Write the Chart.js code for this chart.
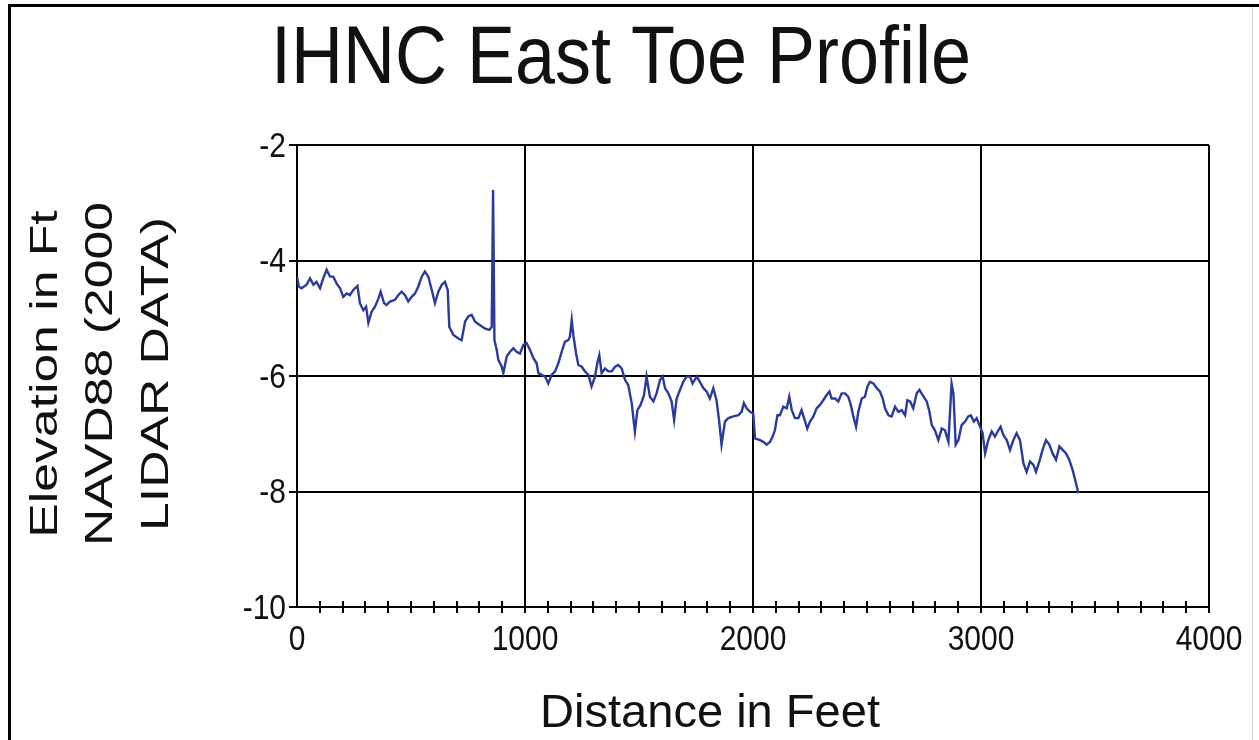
<!DOCTYPE html>
<html>
<head>
<meta charset="utf-8">
<title>IHNC East Toe Profile</title>
<script src="https://cdn.jsdelivr.net/npm/chart.js@4.4.1/dist/chart.umd.min.js"></script>
<style>
  html, body { margin: 0; padding: 0; background: #fff; overflow: hidden; }
  canvas { display: block; }
</style>
</head>
<body>
<canvas id="profile" width="1259" height="740"></canvas>
<script>
// distance along the toe (ft) and LIDAR elevation (ft NAVD88)
const distance = [
  0, 8, 20, 42, 57, 72, 86, 101, 115, 130, 145, 159, 174, 189, 203, 218, 232, 247, 265, 276,
  291, 303, 313, 327, 342, 357, 367, 382, 393, 408, 430, 444, 459, 474, 488, 503, 518, 532, 547, 561,
  576, 591, 605, 620, 635, 649, 661, 668, 686, 708, 722, 737, 751, 766, 781, 803, 825, 844, 854, 860,
  866, 876, 883, 898, 905, 920, 934, 949, 963, 978, 993, 1007, 1022, 1037, 1051, 1059, 1073, 1088, 1102, 1117,
  1132, 1146, 1161, 1175, 1190, 1197, 1205, 1212, 1224, 1234, 1249, 1263, 1278, 1292, 1307, 1317, 1326, 1336, 1351, 1366,
  1380, 1395, 1409, 1424, 1439, 1453, 1468, 1482, 1493, 1507, 1522, 1533, 1548, 1563, 1577, 1592, 1604, 1614, 1629, 1643,
  1654, 1665, 1680, 1694, 1709, 1724, 1735, 1753, 1767, 1782, 1797, 1811, 1826, 1840, 1852, 1862, 1877, 1892, 1914, 1936,
  1950, 1960, 1972, 1987, 2001, 2009, 2031, 2045, 2060, 2075, 2086, 2096, 2107, 2118, 2133, 2148, 2159, 2170, 2184, 2199,
  2213, 2224, 2238, 2250, 2265, 2279, 2294, 2308, 2323, 2335, 2345, 2360, 2374, 2389, 2404, 2418, 2429, 2440, 2452, 2462,
  2477, 2491, 2502, 2513, 2528, 2543, 2557, 2569, 2579, 2594, 2608, 2623, 2638, 2652, 2667, 2677, 2689, 2703, 2718, 2730,
  2744, 2762, 2774, 2784, 2798, 2813, 2828, 2842, 2857, 2871, 2879, 2889, 2901, 2915, 2930, 2944, 2955, 2969, 2981, 2993,
  3007, 3018, 3032, 3047, 3061, 3076, 3086, 3098, 3113, 3127, 3142, 3156, 3171, 3186, 3200, 3215, 3230, 3241, 3256, 3270,
  3285, 3300, 3314, 3329, 3344, 3358, 3373, 3387, 3402, 3417, 3427
];
const elevation = [
  -4.28, -4.45, -4.48, -4.42, -4.31, -4.42, -4.37, -4.48, -4.31, -4.16, -4.28, -4.28, -4.40, -4.48, -4.63, -4.57, -4.60, -4.51, -4.44, -4.74,
  -4.86, -4.80, -5.08, -4.89, -4.80, -4.66, -4.54, -4.74, -4.77, -4.71, -4.68, -4.60, -4.54, -4.60, -4.71, -4.63, -4.57, -4.45, -4.28, -4.19,
  -4.28, -4.51, -4.74, -4.54, -4.42, -4.37, -4.51, -5.15, -5.29, -5.35, -5.38, -5.06, -4.97, -4.94, -5.06, -5.12, -5.18, -5.20, -5.15, -2.78,
  -5.38, -5.55, -5.72, -5.84, -5.95, -5.66, -5.58, -5.52, -5.58, -5.61, -5.46, -5.43, -5.55, -5.69, -5.78, -5.95, -5.98, -6.01, -6.13, -5.98,
  -5.92, -5.78, -5.58, -5.41, -5.38, -5.32, -5.03, -5.29, -5.61, -5.81, -5.84, -5.92, -5.98, -6.18, -6.01, -5.78, -5.64, -5.95, -5.87, -5.92,
  -5.92, -5.84, -5.81, -5.87, -6.07, -6.16, -6.47, -6.96, -6.59, -6.50, -6.33, -6.01, -6.36, -6.44, -6.30, -6.07, -6.01, -6.21, -6.30, -6.44,
  -6.76, -6.39, -6.24, -6.10, -6.01, -6.01, -6.13, -6.01, -6.10, -6.21, -6.27, -6.39, -6.21, -6.42, -6.79, -7.19, -6.79, -6.73, -6.70, -6.68,
  -6.62, -6.47, -6.56, -6.62, -6.65, -7.08, -7.11, -7.14, -7.19, -7.14, -7.05, -6.94, -6.68, -6.68, -6.53, -6.56, -6.36, -6.59, -6.73, -6.73,
  -6.59, -6.73, -6.91, -6.79, -6.70, -6.56, -6.50, -6.42, -6.33, -6.27, -6.39, -6.39, -6.44, -6.30, -6.30, -6.36, -6.50, -6.70, -6.88, -6.62,
  -6.39, -6.36, -6.18, -6.10, -6.13, -6.21, -6.27, -6.39, -6.56, -6.68, -6.70, -6.53, -6.62, -6.59, -6.68, -6.42, -6.44, -6.56, -6.30, -6.24,
  -6.33, -6.44, -6.62, -6.85, -6.94, -7.11, -6.91, -6.94, -7.14, -6.13, -6.30, -7.19, -7.11, -6.85, -6.79, -6.70, -6.68, -6.79, -6.73, -6.85,
  -6.99, -7.34, -7.11, -6.96, -7.05, -6.94, -6.88, -7.02, -7.11, -7.28, -7.11, -6.99, -7.11, -7.51, -7.66, -7.48, -7.54, -7.66, -7.48, -7.28,
  -7.11, -7.19, -7.34, -7.45, -7.22, -7.28, -7.34, -7.45, -7.63, -7.86, -8.03
];

const chartTitle = 'IHNC East Toe Profile';
const xTitle = 'Distance in Feet';
const yTitleLines = ['Elevation in Ft', 'NAVD88 (2000', 'LIDAR DATA)'];

const FONT = '"Liberation Sans", Arial, sans-serif';
const Y_STRETCH = 1.36;   // y-title lettering is elongated along its length
const TICK_TALL = 1.16;   // tick digits are a bit taller than plain Arial

// draw text scaled along its reading direction (to len px, or by a factor)
function fitText(ctx, text, x, y, size, opts) {
    const o = opts || {};
    ctx.save();
    ctx.translate(x, y);
    ctx.rotate(o.rot || 0);
    ctx.font = size + 'px ' + FONT;
    const w = ctx.measureText(text).width;
    const sx = o.len ? o.len / w : (o.stretch || 1);
    ctx.scale(sx, o.tall || 1);
    ctx.textAlign = o.align || 'center';
    ctx.textBaseline = o.baseline || 'alphabetic';
    ctx.fillText(text, 0, 0);
    ctx.restore();
}

const decorPlugin = {
    id: 'decor',
    afterDraw(chart) {
        const ctx = chart.ctx;
        const xs = chart.scales.x, ys = chart.scales.y;
        const area = chart.chartArea;

        // minor ticks poke up into the plot
        ctx.save();
        ctx.strokeStyle = '#000';
        ctx.lineWidth = 2;
        for (let v = 100; v < 4000; v += 100) {
            if (v % 1000 === 0) continue;
            const px = Math.round(xs.getPixelForValue(v));
            ctx.beginPath();
            ctx.moveTo(px, area.bottom - 6);
            ctx.lineTo(px, area.bottom);
            ctx.stroke();
        }
        ctx.restore();

        ctx.save();
        ctx.fillStyle = '#111';
        // tick labels, placed from the library's scales
        ys.ticks.forEach(t => {
            fitText(ctx, String(t.value), area.left - 11, ys.getPixelForValue(t.value) + 2, 30,
                { align: 'right', baseline: 'middle', tall: TICK_TALL });
        });
        xs.ticks.forEach(t => {
            if (t.value % 1000 !== 0) return;
            fitText(ctx, String(t.value), xs.getPixelForValue(t.value), area.bottom + 33, 30,
                { baseline: 'middle', tall: TICK_TALL });
        });

        fitText(ctx, chartTitle, 621, 83, 78, { len: 700, tall: 1.04 });
        fitText(ctx, xTitle, 710, 727, 47, { len: 340 });
        const cols = [57, 112, 168];
        yTitleLines.forEach((t, i) =>
            fitText(ctx, t, cols[i], 374, 38, { rot: -Math.PI / 2, stretch: Y_STRETCH }));
        ctx.restore();

        // outer frame of the figure
        ctx.save();
        ctx.fillStyle = '#000';
        ctx.fillRect(8, 4, 1251, 3);
        ctx.fillRect(8, 4, 3, 736);
        ctx.fillStyle = '#d8d8d8';
        ctx.fillRect(1252, 7, 1, 733);
        ctx.restore();
    }
};

const points = distance.map((d, i) => ({ x: d, y: elevation[i] }));

new Chart(document.getElementById('profile'), {
    type: 'line',
    data: {
        datasets: [{
            data: points,
            borderColor: '#2b3a9c',
            borderWidth: 2.4,
            pointRadius: 0,
            tension: 0,
            fill: false
        }]
    },
    options: {
        responsive: false,
        animation: false,
        devicePixelRatio: 1,
        layout: { padding: { top: 145, right: 50, left: 0, bottom: 0 } },
        plugins: {
            legend: { display: false },
            tooltip: { enabled: false },
            title: { display: false }
        },
        scales: {
            x: {
                type: 'linear',
                min: 0,
                max: 4000,
                afterFit: s => { s.height = 133; },
                border: { display: true, color: '#000', width: 2 },
                grid: {
                    color: c => (c.tick && c.tick.value % 1000 === 0) ? '#000' : 'rgba(0,0,0,0)',
                    lineWidth: 2,
                    drawTicks: true,
                    tickLength: 6,
                    tickWidth: 2,
                    tickColor: c => (c.tick && c.tick.value === 0) ? 'rgba(0,0,0,0)' : '#000'
                },
                ticks: {
                    display: false,
                    stepSize: 100,
                    autoSkip: false,
                    maxRotation: 0
                }
            },
            y: {
                min: -10,
                max: -2,
                afterFit: s => { s.width = 297; },
                border: { display: true, color: '#000', width: 2 },
                grid: {
                    color: '#000',
                    lineWidth: 2,
                    drawTicks: true,
                    tickLength: 8,
                    tickWidth: 2,
                    tickColor: '#000'
                },
                ticks: {
                    display: false,
                    stepSize: 2
                }
            }
        }
    },
    plugins: [decorPlugin]
});
</script>
</body>
</html>
